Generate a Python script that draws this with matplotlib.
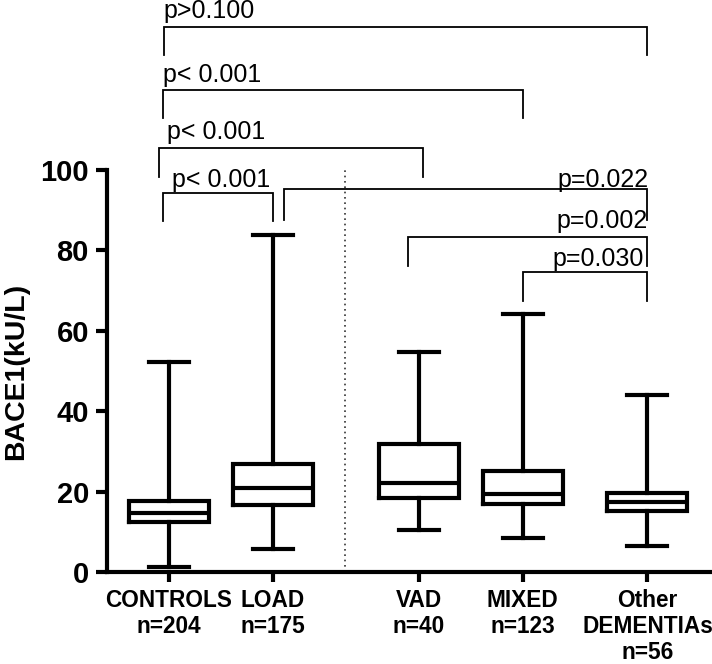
import matplotlib
matplotlib.use('Agg')
import matplotlib.pyplot as plt

plt.rcParams['font.family'] = ['Liberation Sans', 'DejaVu Sans']

# ---- data ----
categories = ["CONTROLS\nn=204", "LOAD\nn=175", "VAD\nn=40", "MIXED\nn=123",
              "Other\nDEMENTIAs\nn=56"]
positions = [1, 2, 3.4, 4.4, 5.6]
whis_low = [1.2, 5.9, 10.5, 8.6, 6.6]
q1 = [12.5, 16.7, 18.4, 16.9, 15.2]
median = [14.8, 21.0, 22.3, 19.4, 17.4]
q3 = [17.7, 26.8, 31.8, 25.2, 19.8]
whis_high = [52.2, 83.8, 54.8, 64.1, 44.1]

# significance brackets: (left group, right group)
bracket_pairs = [(0, 1), (1, 4), (2, 4), (3, 4), (0, 2), (0, 3), (0, 4)]
bracket_heights = [94.4, 95.2, 83.4, 74.6, 105.4, 119.9, 135.6]
bracket_labels = ["p< 0.001", "p=0.022", "p=0.002", "p=0.030",
                  "p< 0.001", "p< 0.001", "p>0.100"]
label_heights = [95.85, 95.85, 85.5, 76.1, 107.6, 121.9, 137.7]

# ---- styling of brackets (offsets/geometry only) ----
leg_drop = [7.2, 7.6, 7.3, 7.1, 7.1, 7.0, 7.0]
left_off = [-0.058, 0.108, -0.10, 0.0, -0.096, -0.06, -0.05]
right_off = [0.0, 0.0, 0.0, 0.0, 0.04, 0.0, 0.0]
label_align = ['left', 'right', 'right', 'right', 'left', 'left', 'left']
label_dx = [0.09, 0.01, 0.0, -0.03, 0.075, 0.005, 0.0]

fig = plt.figure(figsize=(7.12, 6.64), dpi=100)
ax = fig.add_axes([107 / 712, 91.7 / 664, 605 / 712, 402.3 / 664])

stats = []
for c, lo, a, m, b, hi in zip(categories, whis_low, q1, median, q3, whis_high):
    stats.append(dict(label=c, whislo=lo, q1=a, med=m, q3=b, whishi=hi))

lw = 3.0
ax.bxp(stats, positions=positions, widths=0.77, capwidths=0.385,
       showfliers=False,
       boxprops=dict(linewidth=lw, color='black', solid_joinstyle='miter'),
       whiskerprops=dict(linewidth=lw, color='black'),
       capprops=dict(linewidth=lw, color='black'),
       medianprops=dict(linewidth=lw, color='black', solid_capstyle='butt'))

ax.set_xlim(0.404, 6.221)
ax.set_ylim(0, 100)

# dotted separator
ax.axvline(2.692, ymin=0, ymax=1, linestyle=(0, (1, 2.2)), color='#333333',
           linewidth=1.2)

for s in ['top', 'right']:
    ax.spines[s].set_visible(False)
for s in ['left', 'bottom']:
    ax.spines[s].set_linewidth(3)

ax.set_yticks([0, 20, 40, 60, 80, 100])
ax.tick_params(axis='y', length=8, width=3, labelsize=21, pad=5)
ax.tick_params(axis='x', length=7, width=3, labelsize=16.3, pad=5)
for t in ax.get_yticklabels():
    t.set_fontweight('bold')
ax.set_xticks(positions)
ax.set_xticklabels(categories, fontweight='bold', multialignment='center',
                   linespacing=1.18)

ax.set_ylabel('BACE1(kU/L)', fontsize=20.5, fontweight='bold')
ax.yaxis.set_label_coords(-0.128, 0.5)

for k, (i, j) in enumerate(bracket_pairs):
    xl = positions[i] + left_off[k]
    xr = positions[j] + right_off[k]
    h = bracket_heights[k]
    d = leg_drop[k]
    ax.plot([xl, xl, xr, xr], [h - d, h, h, h - d], color='black',
            linewidth=1.3, clip_on=False, solid_joinstyle='miter')
    if label_align[k] == 'left':
        tx = xl + label_dx[k]
    else:
        tx = xr + label_dx[k]
    ax.text(tx, label_heights[k], bracket_labels[k], ha=label_align[k],
            va='baseline', fontsize=18, clip_on=False)

fig.savefig('out.png', dpi=100)
